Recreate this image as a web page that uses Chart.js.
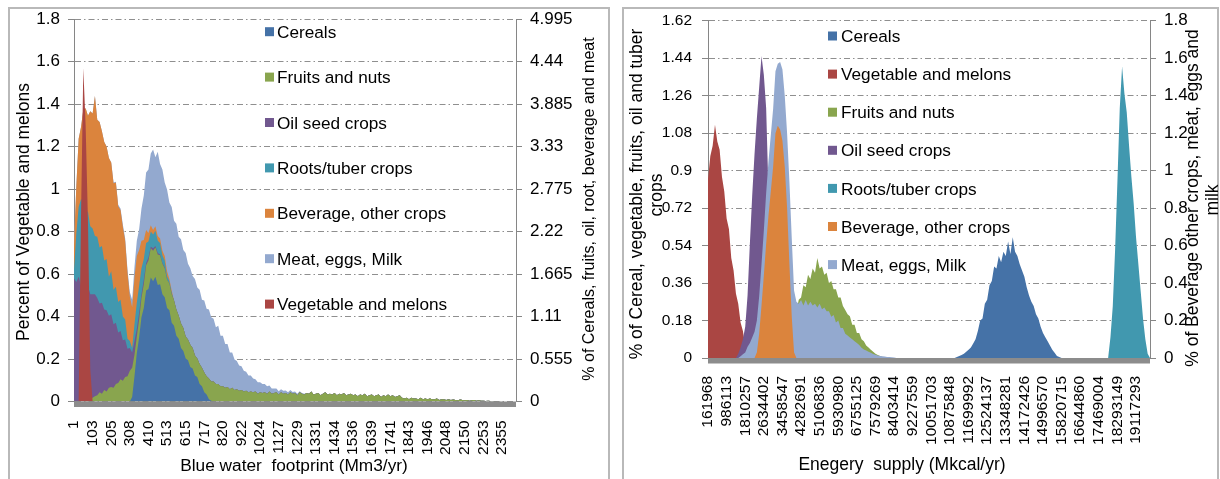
<!DOCTYPE html>
<html><head><meta charset="utf-8">
<script src="https://cdn.jsdelivr.net/npm/chart.js@4.4.0/dist/chart.umd.min.js"></script>
<style>
html,body{margin:0;padding:0;background:#fff;width:1220px;height:479px;overflow:hidden;position:relative;}
.panel{position:absolute;border:2px solid #b9b9b9;box-sizing:border-box;}
#p1{left:8px;top:7px;width:602px;height:490px;}
#p2{left:622px;top:7px;width:597px;height:490px;}
canvas{position:absolute;top:0;}
#c1{left:0;}
#c2{left:612px;}
</style></head>
<body>
<div class="panel" id="p1"></div>
<div class="panel" id="p2"></div>
<canvas id="c1" width="612" height="479"></canvas>
<canvas id="c2" width="608" height="479"></canvas>
<script>
// ---------- tick labels ----------
const waterTicks = ['1','103','205','308','410','513','615','717','820','922','1024','1127','1229','1331','1434','1536','1639','1741','1843','1946','2048','2150','2253','2355'];
const energyTicks = ['161968','986113','1810257','2634402','3458547','4282691','5106836','5930980','6755125','7579269','8403414','9227559','10051703','10875848','11699992','12524137','13348281','14172426','14996570','15820715','16644860','17469004','18293149','19117293'];
const waterYTicks = [0,0.2,0.4,0.6,0.8,1,1.2,1.4,1.6,1.8];
const waterY2Ticks = [0,0.555,1.11,1.665,2.22,2.775,3.33,3.885,4.44,4.995];
const energyYTicks = [0,0.18,0.36,0.54,0.72,0.9,1.08,1.26,1.44,1.62];
const energyY2Ticks = [0,0.2,0.4,0.6,0.8,1,1.2,1.4,1.6,1.8];

// ---------- left chart series (blue water footprint) ----------
// Vegetable and melons on the left axis; the rest on the right axis (stacked)
const wVegStart = 2;
const wVeg = [0,0.86,1.57,1.3,0.85,0.15,0];
const wCerealsStart = 25;
const wCereals = [0.06,0.33,0.63,0.84,1.10,1.22,1.45,1.47,1.62,1.57,1.63,1.52,1.53,1.40,1.36,1.22,1.19,1.03,0.99,0.86,0.82,0.70,0.66,0.56,0.54,0.45,0.43,0.34,0.32,0.23,0.20,0.12,0.09,0.03,0.01,0];
const wFruitsStart = 5;
const wFruits = [0.03,0.02,0.04,0.05,0.07,
 0.08,0.12,0.10,0.15,0.13,0.18,0.19,0.18,0.23,0.24,
 0.29,0.27,0.32,0.33,0.40,0.38,0.28,0.22,0.23,0.25,
 0.31,0.33,0.37,0.38,0.40,0.38,0.40,0.38,0.40,0.38,
 0.37,0.35,0.37,0.33,0.34,0.30,0.32,0.30,0.29,0.27,
 0.29,0.27,0.26,0.24,0.26,0.24,0.26,0.24,0.27,0.25,
 0.26,0.23,0.23,0.20,0.20,0.18,0.19,0.16,0.18,0.15,
 0.16,0.14,0.15,0.13,0.14,0.12,0.13,0.12,0.13,0.10,
 0.12,0.11,0.12,0.10,0.13,0.10,0.11,0.12,0.09,0.12,
 0.10,
 0.11,0.09,0.12,0.10,0.11,0.08,0.12,0.10,0.09,0.11,0.10,0.13,0.09,0.10,0.11,0.08,0.10,0.12,0.09,0.10,0.09,0.11,0.08,0.10,0.09,0.11,0.08,0.09,0.10,0.08,
 0.09,0.07,0.09,0.08,0.10,0.07,0.08,0.09,0.07,0.08,0.09,0.06,0.08,0.07,0.09,0.07,0.08,0.06,0.07,0.08,
 0.05,0.04,0.05,0.03,0.05,0.04,0.04,0.03,0.05,0.03,0.04,0.03,0.04,0.03,0.03,0.04,0.02,0.03,0.03,0.02,
 0.03,0.02,0.025,0.02,0.015,0.025,0.02,0.015,0.02,0.01,0.015,0.02,0.01,0.015,0.01,
 0.01,0.008,0.01,0.006,0.008,0.005,0.004,0.003,0];
const wOilStart = 0;
const wOil = [1.61,1.56,1.63,1.52,1.57,1.42,1.49,1.36,1.35,1.33,1.27,1.16,1.19,1.05,1.06,0.94,0.95,0.83,0.80,0.66,0.63,0.53,0.49,0.36,0.30,0.20,0.18,0.10,0.09,0.05,0.06,0.03,0.04,0.02,0.03,0.02,0.02,0.01,0.01,0.01,0];
const wRootsStart = 0;
const wRoots = [0.11,0.64,0.91,1.12,1.05,1.02,0.97,0.89,0.86,0.76,0.80,0.73,0.74,0.64,0.67,0.51,0.56,0.45,0.47,0.40,0.41,0.31,0.26,0.13,0.09,0.06,0.22,0.34,0.35,0.34,0.27,0.26,0.21,0.20,0.18,0.20,0.16,0.15,0.10,0.09,0.05,0.03,0.02,0];
const wBevStart = 0;
const wBev = [0.33,0.61,0.89,0.94,1.19,1.36,1.25,1.50,1.50,1.83,1.53,1.64,1.50,1.55,1.47,1.55,1.42,1.39,1.36,1.25,1.17,1.17,1.03,0.86,0.58,0.53,0.61,0.61,0.47,0.36,0.25,0.17,0.11,0.08,0.06,0.06,0.06,0.06,0.06,0.06,0.06,0.03,0.03,0];
const wMeatStart = 0;
const wMeat = [0,0,0,0,0,0,0,0,0,0,
 0,0,0,0,0,0,0,0.01,0.01,0.02,
 0.02,0.03,0.03,0.04,0.06,0.10,0.14,0.20,0.27,0.42,
 0.58,0.75,0.83,0.94,1.05,0.90,1.10,0.97,1.06,0.96,
 1.07,1.00,1.09,1.04,1.12,1.03,1.10,1.02,1.09,0.99,
 1.00,0.94,1.00,0.93,0.97,0.89,0.94,0.88,0.90,0.84,
 0.82,0.74,0.76,0.66,0.66,0.57,0.56,0.48,0.46,0.40,
 0.37,0.33,0.31,0.27,0.25,0.22,0.21,0.18,0.16,0.15,
 0.13,0.12,0.11,0.10,0.08,0.07,0.06,0.05,0.045,0.04,
 0.04,0.035,0.03,0.03,0.025,0.02,0.02,0.015,0.01,0.01,0];

// ---------- right chart series (energy supply) ----------
// Cereal, vegetable, fruits, oil, roots on the left axis; beverage + meat on the right axis (stacked)
const eVegStart = 0;
const eVeg = [0.86,0.97,1.02,1.12,1.04,1.00,0.87,0.80,0.67,0.62,0.48,0.42,0.31,0.26,0.17,0.13,0.06,0.03,0.01,0];
const eOilStart = 12;
const eOil = [0,0.02,0.05,0.09,0.15,0.30,0.55,0.78,0.98,1.15,1.30,1.45,1.36,1.20,0.80,0.30,0.05,0];
const eFruitsStart = 29;
const eFruits = [0,0.05,0.08,0.10,0.12,0.14,0.16,0.18,0.20,0.22,
 0.28,0.29,0.35,0.34,0.40,0.38,0.43,0.41,0.48,0.43,
 0.44,0.40,0.41,0.36,0.37,0.33,0.33,0.29,0.29,0.25,
 0.23,0.21,0.20,0.16,0.16,0.12,0.12,0.09,0.08,0.06,
 0.05,0.04,0.03,0.02,0.015,0.01,0.005,0];
const eCerealsStart = 106;
const eCereals = [0,0.005,0.01,0.015,0.02,0.03,0.04,0.05,0.07,0.09,0.13,0.18,0.19,0.26,0.28,0.35,0.37,0.44,0.43,0.49,0.46,0.51,0.49,0.56,0.50,0.58,0.51,0.49,0.45,0.42,0.39,0.34,0.30,0.27,0.25,0.21,0.19,0.15,0.12,0.10,0.08,0.06,0.04,0.025,0.01,0.005,0];
const eRootsStart = 172;
const eRoots = [0,0.10,0.25,0.52,0.85,1.20,1.40,1.27,1.18,1.02,0.87,0.74,0.58,0.45,0.32,0.19,0.09,0.02,0];
const eBevStart = 20;
const eBev = [0,0.03,0.13,0.28,0.44,0.61,0.76,0.89,1.02,1.20,1.24,1.22,1.16,1.02,0.80,0.50,0.22,0.03,0];
const eMeatStart = 13;
const eMeat = [0,0.01,0.02,0.03,0.06,0.08,0.11,0.14,0.17,0.20,
 0.22,0.24,0.27,0.29,0.30,0.31,0.33,0.33,0.36,0.38,
 0.38,0.40,0.44,0.42,0.33,0.30,0.29,0.31,0.28,0.31,
 0.28,0.30,0.28,0.29,0.27,0.29,0.26,0.27,0.25,0.25,
 0.22,0.23,0.19,0.20,0.16,0.16,0.13,0.12,0.11,0.10,
 0.09,0.08,0.07,0.055,0.045,0.04,0.033,0.028,0.022,0.017,
 0.013,0.011,0.009,0.008,0.006,0.005,0.004,0.003,0];

const legendWater = ['Cereals','Fruits and nuts','Oil seed crops','Roots/tuber crops','Beverage, other crops','Meat, eggs, Milk','Vegetable and melons'];
const legendEnergy = ['Cereals','Vegetable and melons','Fruits and nuts','Oil seed crops','Roots/tuber crops','Beverage, other crops','Meat, eggs, Milk'];

// ---------- helpers ----------
const SUB = 8, TAIL = 6;
function buildCats(ticks){const out=[];ticks.forEach((t,k)=>{out.push(t);if(k<ticks.length-1)for(let j=1;j<SUB;j++)out.push('');});for(let j=0;j<TAIL;j++)out.push('');return out;}
const waterCats = buildCats(waterTicks);
const energyCats = buildCats(energyTicks);
function series(n,start,vals){const a=new Array(n).fill(0);vals.forEach((v,k)=>{if(start+k<n)a[start+k]=v;});return a;}
const COL = {cereals:'#4572A7',veg:'#AA4643',fruits:'#89A54E',oil:'#71588F',roots:'#4198AF',bev:'#DB843D',meat:'#93A9CF'};
function area(label,data,color,axis){return {label,data,yAxisID:axis,backgroundColor:color,borderColor:color,borderWidth:0,fill:'origin',pointRadius:0,tension:0};}
const FONT = '"Liberation Sans", Arial, sans-serif';
Chart.defaults.font.family = FONT;
Chart.defaults.color = '#000';

const decor = {
  id:'decor',
  afterDatasetsDraw(chart,args,o){
    const ctx=chart.ctx,a=chart.chartArea;
    ctx.save();ctx.fillStyle='#8c8c8c';ctx.fillRect(a.left,a.bottom,a.right-a.left,o.barH);ctx.restore();
  },
  afterDraw(chart,args,o){
    const ctx=chart.ctx;
    ctx.save();
    o.titles.forEach(t=>{
      ctx.save();ctx.translate(t.x,t.y);ctx.rotate(t.rot||0);
      ctx.font=t.size+'px '+FONT;ctx.fillStyle='#000';ctx.textAlign='center';ctx.textBaseline='middle';
      ctx.fillText(t.text,0,0);ctx.restore();
    });
    const L=o.legend;
    ctx.font=L.size+'px '+FONT;ctx.textAlign='left';ctx.textBaseline='alphabetic';
    L.order.forEach((name,k)=>{
      const ds=chart.data.datasets.find(d=>d.label===name);
      const yc=L.y0+k*L.dy;
      ctx.fillStyle=ds.backgroundColor;ctx.fillRect(L.x,yc-L.box/2,L.box,L.box);
      ctx.fillStyle='#000';ctx.fillText(name,L.tx,yc+L.size*0.358);
    });
    ctx.restore();
  }
};

function yAxis(pos,min,max,tickVals,width,fontSize,pad,onArea,stacked){
  return {
    position:pos,min,max,stacked,
    afterBuildTicks:s=>{s.ticks=tickVals.map(v=>({value:v}));},
    afterFit:s=>{s.width=width;},
    ticks:{callback:v=>String(v),font:{size:fontSize},padding:pad,color:'#000'},
    grid:{drawOnChartArea:onArea,color:'#8f8f8f',lineWidth:1,tickLength:6,tickColor:'#868686',drawTicks:true},
    border:{display:true,color:'#868686',width:1,dash:[6,3,1.5,3]}
  };
}
function xAxis(cats,height,pad){
  return {
    type:'category',
    afterFit:s=>{s.height=height;},
    grid:{display:false},border:{display:false},
    ticks:{autoSkip:false,minRotation:90,maxRotation:90,padding:pad,font:{size:15.5},color:'#000',callback:(v,i)=>cats[i]}
  };
}
const NW = waterCats.length, NE = energyCats.length;

new Chart(document.getElementById('c1'),{
  type:'line',
  data:{labels:waterCats,datasets:[
    area('Vegetable and melons',series(NW,wVegStart,wVeg),COL.veg,'y'),
    area('Cereals',series(NW,wCerealsStart,wCereals),COL.cereals,'y2'),
    area('Fruits and nuts',series(NW,wFruitsStart,wFruits),COL.fruits,'y2'),
    area('Oil seed crops',series(NW,wOilStart,wOil),COL.oil,'y2'),
    area('Roots/tuber crops',series(NW,wRootsStart,wRoots),COL.roots,'y2'),
    area('Beverage, other crops',series(NW,wBevStart,wBev),COL.bev,'y2'),
    area('Meat, eggs, Milk',series(NW,wMeatStart,wMeat),COL.meat,'y2')
  ]},
  options:{
    responsive:false,animation:false,
    layout:{padding:{top:19,left:0,right:0,bottom:0}},
    plugins:{legend:{display:false},tooltip:{enabled:false},
      decor:{barH:5.5,
        titles:[
          {text:'Percent of Vegetable and melons',x:24,y:212,rot:-Math.PI/2,size:17.5},
          {text:'% of Cereals, fruits, oil, root, beverage and meat',x:590,y:209,rot:-Math.PI/2,size:16},
          {text:'Blue water  footprint (Mm3/yr)',x:294,y:466,rot:0,size:17.3}
        ],
        legend:{order:legendWater,x:265,tx:277,y0:31.7,dy:45.4,box:9,size:17.2}}},
    scales:{
      x:xAxis(waterCats,77.5,11),
      y:yAxis('left',0,1.8,waterYTicks,74,17,8,true,false),
      y2:yAxis('right',0,4.995,waterY2Ticks,96,17,8,false,true)
    }
  },
  plugins:[decor]
});

new Chart(document.getElementById('c2'),{
  type:'line',
  data:{labels:energyCats,datasets:[
    area('Beverage, other crops',series(NE,eBevStart,eBev),COL.bev,'y2'),
    area('Meat, eggs, Milk',series(NE,eMeatStart,eMeat),COL.meat,'y2'),
    area('Cereals',series(NE,eCerealsStart,eCereals),COL.cereals,'y'),
    area('Oil seed crops',series(NE,eOilStart,eOil),COL.oil,'y'),
    area('Fruits and nuts',series(NE,eFruitsStart,eFruits),COL.fruits,'y'),
    area('Vegetable and melons',series(NE,eVegStart,eVeg),COL.veg,'y'),
    area('Roots/tuber crops',series(NE,eRootsStart,eRoots),COL.roots,'y')
  ]},
  options:{
    responsive:false,animation:false,
    layout:{padding:{top:20.7,left:0,right:0,bottom:0}},
    plugins:{legend:{display:false},tooltip:{enabled:false},
      decor:{barH:5.5,
        titles:[
          {text:'% of Cereal, vegetable, fruits, oil and tuber',x:25,y:194,rot:-Math.PI/2,size:17.5},
          {text:'crops',x:45,y:195,rot:-Math.PI/2,size:17.5},
          {text:'% of Beverage other crops, meat, eggs and',x:581,y:198,rot:-Math.PI/2,size:17.5},
          {text:'milk',x:601,y:200,rot:-Math.PI/2,size:17.5},
          {text:'Enegery  supply (Mkcal/yr)',x:290,y:465,rot:0,size:17.5}
        ],
        legend:{order:legendEnergy,x:216,tx:229,y0:36,dy:38.1,box:9,size:17.2}}},
    scales:{
      x:xAxis(energyCats,121,10),
      y:yAxis('left',0,1.62,energyYTicks,96,15.5,10,true,false),
      y2:yAxis('right',0,1.8,energyY2Ticks,70,17,8,false,true)
    }
  },
  plugins:[decor]
});
</script>
</body></html>
